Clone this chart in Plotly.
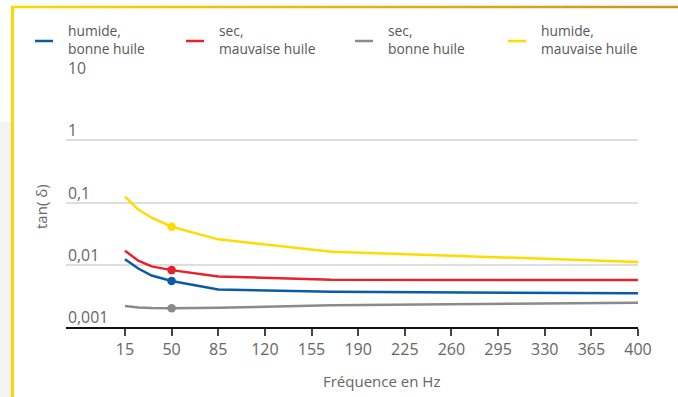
import math
import plotly.graph_objects as go

# Frequencies (Hz) and loss factor tan(delta) for each oil condition
freq_hz = [15, 25, 35, 50, 85, 170, 400]
humide_bonne = [0.0123, 0.0087, 0.0067, 0.0055, 0.0040, 0.00368, 0.00348]
sec_mauvaise = [0.0168, 0.0116, 0.0094, 0.0082, 0.0065, 0.00573, 0.00569]
sec_bonne = [0.00217, 0.00206, 0.00202, 0.00200, 0.00204, 0.00223, 0.00245]
humide_mauvaise = [0.124, 0.077, 0.057, 0.0408, 0.0256, 0.0162, 0.0111]

series_names = ["humide,<br>bonne huile", "sec,<br>mauvaise huile",
                "sec,<br>bonne huile", "humide,<br>mauvaise huile"]
series_values = [humide_bonne, sec_mauvaise, sec_bonne, humide_mauvaise]
series_colors = ["#0b5ba4", "#e5232b", "#8a8a8c", "#ffdc00"]

highlight_freq = 50

x_ticks = [15, 50, 85, 120, 155, 190, 225, 260, 295, 330, 365, 400]
y_tick_values = [10, 1, 0.1, 0.01, 0.001]
y_tick_labels = ["10", "1", "0,1", "0,01", "0,001"]

W, H = 678, 397
ML, MR, MT, MB = 66, 40, 78, 70
PW, PH = W - ML - MR, H - MT - MB


def px_x(px):
    return (px - ML) / PW


def px_y(py):
    return (H - MB - py) / PH


FONT = "Open Sans"
TEXT_GREY = "#666666"

fig = go.Figure()

hi = freq_hz.index(highlight_freq)
for name, vals, col in zip(series_names, series_values, series_colors):
    fig.add_trace(go.Scatter(x=freq_hz, y=vals, mode="lines", name=name,
                             line=dict(color=col, width=2.5),
                             showlegend=False, hoverinfo="skip"))
for name, vals, col in zip(series_names, series_values, series_colors):
    fig.add_trace(go.Scatter(x=[freq_hz[hi]], y=[vals[hi]], mode="markers",
                             marker=dict(color=col, size=8.5),
                             showlegend=False, hoverinfo="skip"))

shapes = []
annotations = []

# legend drawn as short line samples with two-line labels
legend_px = [35, 186, 355, 508]
for lx, name, col in zip(legend_px, series_names, series_colors):
    shapes.append(dict(type="line", xref="paper", yref="paper",
                       x0=px_x(lx), x1=px_x(lx + 18), y0=px_y(41), y1=px_y(41),
                       line=dict(color=col, width=2.5)))
    annotations.append(dict(text=name, xref="paper", yref="paper",
                            x=px_x(lx + 31), y=px_y(39.5), xanchor="left",
                            yanchor="middle", align="left", showarrow=False,
                            font=dict(family=FONT, size=13.8, color="#585858")))

# y tick labels sit above their gridlines
for v, lab in zip(y_tick_values, y_tick_labels):
    annotations.append(dict(text=lab, xref="paper", yref="y", x=0,
                            y=math.log10(v), xanchor="left", yanchor="middle",
                            yshift=10, showarrow=False,
                            font=dict(family=FONT, size=15.8, color=TEXT_GREY)))

annotations.append(dict(text="Fréquence en Hz", xref="x", yref="paper",
                        x=(x_ticks[0] + x_ticks[-1]) / 2, y=px_y(381),
                        xanchor="center", yanchor="middle", showarrow=False,
                        font=dict(family=FONT, size=15, color=TEXT_GREY)))
annotations.append(dict(text="tan( δ)", xref="paper", yref="paper",
                        x=px_x(41), y=px_y(207), textangle=-90,
                        xanchor="center", yanchor="middle", showarrow=False,
                        font=dict(family=FONT, size=15, color=TEXT_GREY)))

# page frame: grey side strip, yellow left rule, yellow-to-orange top rule
shapes.append(dict(type="rect", xref="paper", yref="paper", layer="below",
                   x0=px_x(0), x1=px_x(11), y0=px_y(H), y1=px_y(122),
                   fillcolor="#f3f3f3", line=dict(width=0)))
shapes.append(dict(type="line", xref="paper", yref="paper",
                   x0=px_x(12.5), x1=px_x(12.5), y0=px_y(6), y1=px_y(H),
                   line=dict(color="#ffd700", width=3)))
c0 = (255, 215, 0)
c1 = (212, 144, 26)
n_seg = 48
x_start, x_end = 11, W
for i in range(n_seg):
    t = i / (n_seg - 1)
    r, g, b = (round(c0[k] + (c1[k] - c0[k]) * t) for k in range(3))
    xa = x_start + (x_end - x_start) * i / n_seg
    xb = x_start + (x_end - x_start) * (i + 1) / n_seg + 0.5
    shapes.append(dict(type="line", xref="paper", yref="paper",
                       x0=px_x(xa), x1=px_x(xb), y0=px_y(7), y1=px_y(7),
                       line=dict(color=f"rgb({r},{g},{b})", width=2.5)))

fig.update_layout(
    width=W, height=H,
    margin=dict(l=ML, r=MR, t=MT, b=MB, pad=0),
    paper_bgcolor="white", plot_bgcolor="white",
    font=dict(family=FONT, color=TEXT_GREY),
    shapes=shapes, annotations=annotations,
    showlegend=False,
)
fig.update_xaxes(range=[-29.25, 400], tickvals=x_ticks,
                 ticktext=[str(t) for t in x_ticks],
                 showgrid=False, zeroline=False,
                 showline=True, linecolor="#111111", linewidth=1.5,
                 ticks="outside", ticklen=7, tickwidth=1.5, tickcolor="#444444",
                 tickfont=dict(family=FONT, size=16, color=TEXT_GREY))
fig.update_yaxes(type="log", range=[-3, 1], tickvals=y_tick_values,
                 showticklabels=False, showgrid=True, gridcolor="#dedede",
                 gridwidth=1.5, zeroline=False, showline=False)

fig.write_html("out.html")
